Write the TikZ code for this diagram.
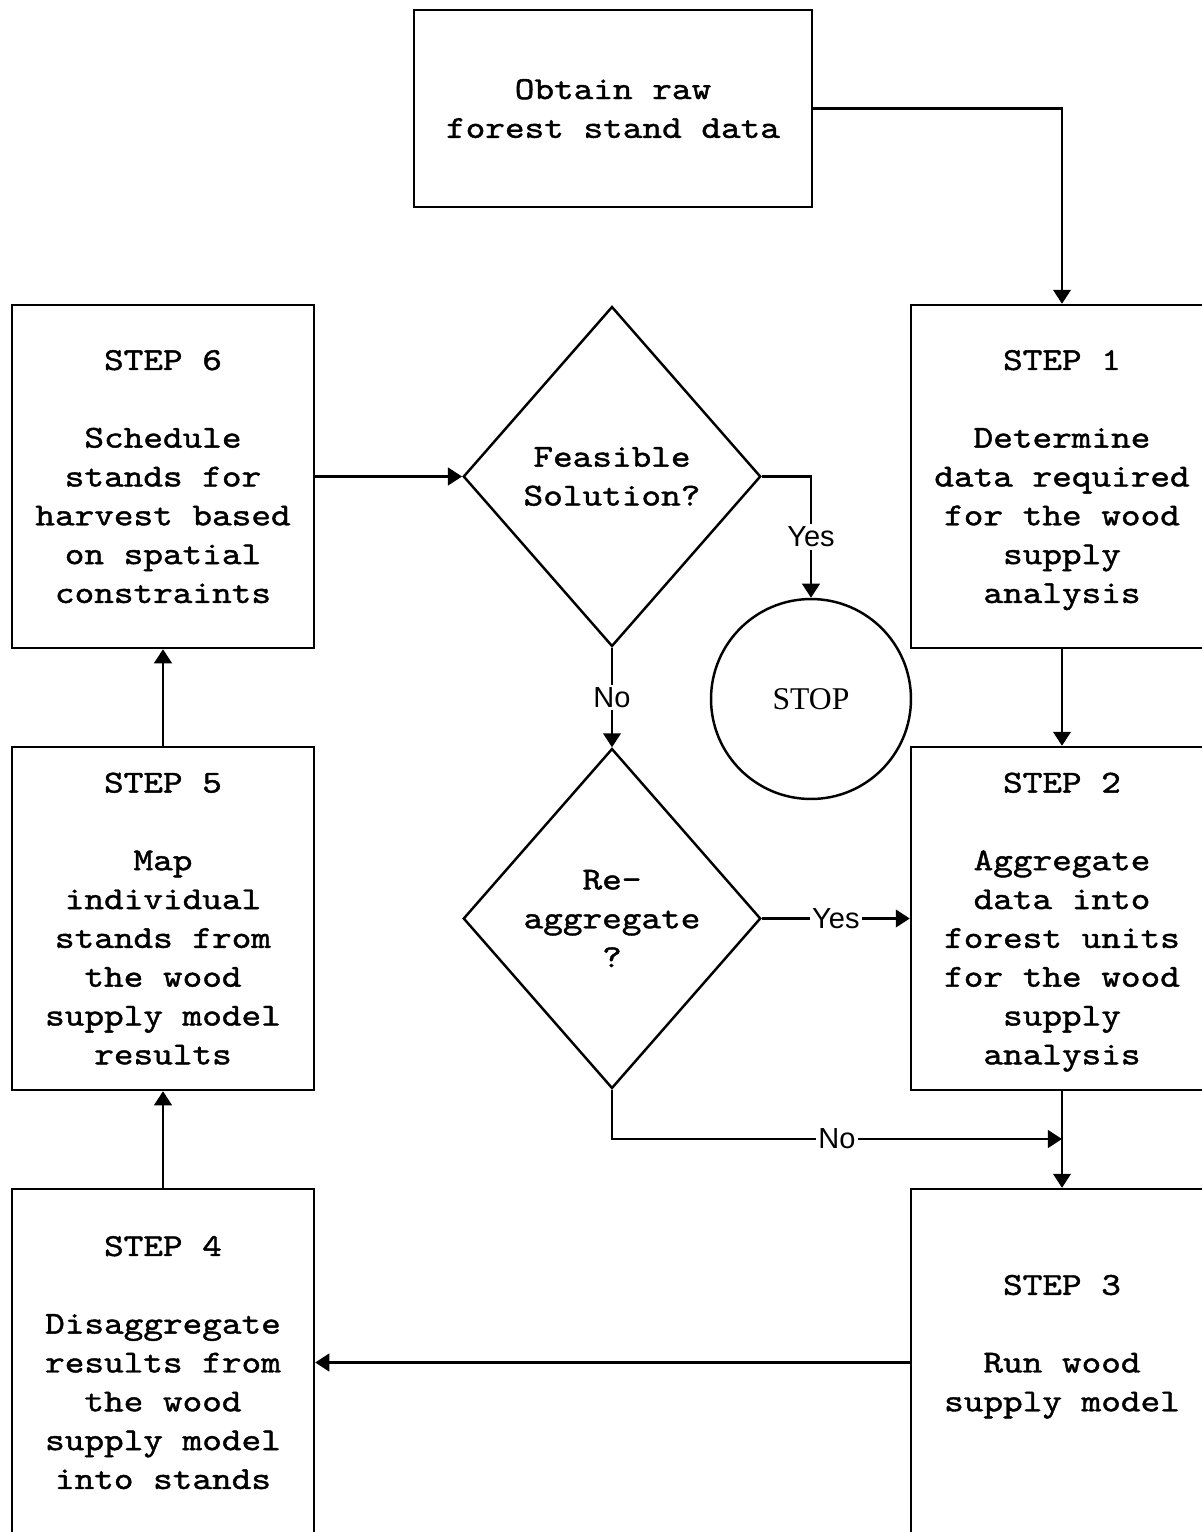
\documentclass[tikz,border=0pt]{standalone}
\usepackage{fontspec}
\setmainfont{Liberation Serif}
\setsansfont{Liberation Sans}
\newfontfamily\stepfont{lmmono10-regular}[Extension=.otf, FakeBold=1.3, FakeStretch=1.17]
\usepackage{tikz}
\usetikzlibrary{shapes.geometric, arrows.meta}

\begin{document}
\begin{tikzpicture}[
    x=0.02cm, y=-0.02cm,
    stepbox/.style ={rectangle, draw=black, line width=1.4pt,
                     minimum width=6.04cm, minimum height=6.86cm,
                     align=center, inner sep=0pt, text depth=0pt,
                     font=\stepfont\fontsize{18.2}{22.1}\selectfont},
    decision/.style={diamond, draw=black, line width=1.4pt,
                     minimum width=5.95cm, minimum height=6.8cm,
                     aspect=0.87, align=center, inner sep=0pt,
                     font=\stepfont\fontsize{18.2}{22.1}\selectfont},
    endnode/.style ={circle, draw=black, line width=1.4pt,
                     minimum size=4cm, inner sep=0pt,
                     font=\rmfamily\fontsize{18}{21}\selectfont},
    lbl/.style     ={fill=white, inner sep=1.5pt,
                     font=\sffamily\fontsize{16.5}{19}\selectfont},
    arrow/.style   ={-{Triangle[length=8pt, width=10pt]}, line width=1.4pt}
]
\path[use as bounding box, clip] (0,0) rectangle (1202,1532);

% ============================================================
% BOXES
% ============================================================

\node[stepbox, minimum width=7.96cm, minimum height=3.94cm]
      (raw) at (613, 108.5) {Obtain raw\\forest stand data};

% -- right column --
\node[stepbox] (st1) at (1062, 476.5)
      {STEP 1\\[\baselineskip]Determine\\data required\\for the wood\\supply\\analysis};
\node[stepbox] (st2) at (1062, 918.5)
      {STEP 2\\[\baselineskip]Aggregate\\data into\\forest units\\for the wood\\supply\\analysis};
\node[stepbox, minimum height=6.94cm] (st3) at (1062, 1362.5)
      {STEP 3\\[\baselineskip]Run wood\\supply model\\ \mbox{}};

% -- left column --
\node[stepbox] (st6) at (163, 476.5)
      {STEP 6\\[\baselineskip]Schedule\\stands for\\harvest based\\on spatial\\constraints};
\node[stepbox] (st5) at (163, 918.5)
      {STEP 5\\[\baselineskip]Map\\individual\\stands from\\the wood\\supply model\\results};
\node[stepbox, minimum height=6.94cm] (st4) at (163, 1362.5)
      {STEP 4\\[\baselineskip]Disaggregate\\results from\\the wood\\supply model\\into stands};

% -- middle --
\node[decision] (feas)  at (612, 476.5) {Feasible\\Solution?};
\node[decision] (reagg) at (612, 918.5) {Re-\\aggregate\\?};
\node[endnode]  (stop)  at (811, 699)   {STOP};

% ============================================================
% ARROWS
% ============================================================

\coordinate (nojoin) at (1062, 1139);

\draw[arrow] (raw.east)   -| (st1.north);
\draw[arrow] (st1.south)  -- (st2.north);
\draw[arrow] (st2.south)  -- (st3.north);
\draw[arrow] (st3.west)   -- (st4.east);
\draw[arrow] (st4.north)  -- (st5.south);
\draw[arrow] (st5.north)  -- (st6.south);
\draw[arrow] (st6.east)   -- (feas.west);

% decisions
\draw[arrow] (feas.east)   -| node[pos=0.75, lbl] {Yes} (stop.north);
\draw[arrow] (feas.south)  -- node[lbl] {No} (reagg.north);
\draw[arrow] (reagg.east)  -- node[lbl] {Yes} (st2.west);
\draw[arrow] (reagg.south) |- node[pos=0.75, lbl] {No} (nojoin);

\end{tikzpicture}
\end{document}
